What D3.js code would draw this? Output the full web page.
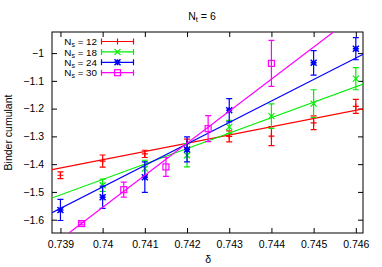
<!DOCTYPE html>
<html>
<head>
<meta charset="utf-8">
<style>
  body { margin: 0; background: #fff; }
  svg { font-family: "Liberation Sans", Arial, sans-serif; }
</style>
</head>
<body>
<script src="https://cdn.jsdelivr.net/npm/d3@7"></script>
<script>

// ===== data =====
const deltaTicks = [0.739, 0.740, 0.741, 0.742, 0.743, 0.744, 0.745, 0.746];
const binderTicks = [-1, -1.1, -1.2, -1.3, -1.4, -1.5, -1.6];

const ns12_x   = [0.739, 0.740, 0.741, 0.742, 0.743, 0.744, 0.745, 0.746];
const ns12_y   = [-1.440, -1.389, -1.363, -1.326, -1.300, -1.299, -1.251, -1.192];
const ns12_err = [0.012, 0.022, 0.013, 0.016, 0.020, 0.034, 0.025, 0.025];

const ns18_x   = [0.740, 0.741, 0.742, 0.743, 0.744, 0.745, 0.746];
const ns18_y   = [-1.476, -1.416, -1.368, -1.266, -1.227, -1.182, -1.092];
const ns18_err = [0.022, 0.030, 0.042, 0.024, 0.044, 0.050, 0.040];

const ns24_x   = [0.739, 0.740, 0.741, 0.742, 0.743, 0.745, 0.746];
const ns24_y   = [-1.565, -1.519, -1.447, -1.347, -1.206, -1.035, -0.984];
const ns24_err = [0.038, 0.040, 0.055, 0.045, 0.042, 0.044, 0.040];

const ns30_x   = [0.7395, 0.7405, 0.7415, 0.7425, 0.744];
const ns30_y   = [-1.614, -1.492, -1.410, -1.272, -1.037];
const ns30_err = [0.005, 0.027, 0.034, 0.047, 0.083];

// fitted lines: two points each (delta, binder)
const fit12 = [[0.7388, -1.420], [0.7462, -1.200]];
const fit18 = [[0.7388, -1.522], [0.7462, -1.110]];
const fit24 = [[0.7388, -1.575], [0.7462, -1.002]];
const fit30 = [[0.73920, -1.648], [0.74547, -0.924]];

const seriesNames = ["12", "18", "24", "30"];
const seriesColors = ["#ff0000", "#00ee00", "#0000ff", "#ff00ff"];
const seriesMarks = ["plus", "cross", "star", "box"];

// ===== layout =====
const W = 382, H = 267;
const margin = {top: 32, right: 19, bottom: 34, left: 52};
const width = W - margin.left - margin.right;
const height = H - margin.top - margin.bottom;

const svg = d3.select("body").append("svg")
    .attr("width", W)
    .attr("height", H);

const g = svg.append("g")
    .attr("transform", `translate(${margin.left},${margin.top})`);

const x = d3.scaleLinear().domain([0.7388, 0.74617]).range([0, width]);
const y = d3.scaleLinear().domain([-1.648, -0.924]).range([height, 0]);

svg.append("defs").append("clipPath").attr("id", "plotclip")
  .append("rect").attr("width", width).attr("height", height);

// axes, ticks pointing inward, mirrored
const tickLen = 5;
const xAxis = d3.axisBottom(x).tickValues(deltaTicks).tickSize(-tickLen).tickPadding(8)
    .tickFormat(d => d3.format("")(+d.toFixed(3)));
const yAxis = d3.axisLeft(y).tickValues(binderTicks).tickSize(-tickLen).tickPadding(8)
    .tickFormat(d => d3.format("")(+d.toFixed(1)));

g.append("g").attr("transform", `translate(0,${height})`).call(xAxis);
g.append("g").call(yAxis);
g.append("g").call(d3.axisTop(x).tickValues(deltaTicks).tickSize(-tickLen).tickFormat(""));
g.append("g").attr("transform", `translate(${width},0)`)
  .call(d3.axisRight(y).tickValues(binderTicks).tickSize(-tickLen).tickFormat(""));

g.selectAll(".domain").remove();
g.selectAll(".tick line").attr("stroke", "#000").attr("stroke-width", 1);
g.selectAll(".tick text").attr("font-size", 10.5).attr("fill", "#000");

g.append("rect")
    .attr("width", width).attr("height", height)
    .attr("fill", "none").attr("stroke", "#000").attr("stroke-width", 1);

// title and labels
svg.append("text")
    .attr("x", 202).attr("y", 19.5)
    .attr("text-anchor", "middle").attr("font-size", 10.5)
    .html('N<tspan font-size="7.5" dy="2.5">t</tspan><tspan dy="-2.5"> = 6</tspan>');

svg.append("text")
    .attr("transform", `translate(12,${margin.top + height / 2}) rotate(-90)`)
    .attr("text-anchor", "middle").attr("font-size", 10.5)
    .text("Binder cumulant");

svg.append("text")
    .attr("x", margin.left + x(0.7425)).attr("y", 263)
    .attr("text-anchor", "middle").attr("font-size", 10.5)
    .text("δ");

// marker drawing
function drawMark(sel, kind, color, cx, cy) {
  const s = 3;
  if (kind === "plus") {
    sel.append("path").attr("d", `M${cx - s},${cy}H${cx + s}M${cx},${cy - s}V${cy + s}`)
      .attr("stroke", color).attr("stroke-width", 1.2).attr("fill", "none");
  } else if (kind === "cross") {
    sel.append("path").attr("d", `M${cx - s},${cy - s}L${cx + s},${cy + s}M${cx - s},${cy + s}L${cx + s},${cy - s}`)
      .attr("stroke", color).attr("stroke-width", 1.2).attr("fill", "none");
  } else if (kind === "star") {
    sel.append("path").attr("d", `M${cx - s},${cy - s}L${cx + s},${cy + s}M${cx - s},${cy + s}L${cx + s},${cy - s}M${cx - s},${cy}H${cx + s}M${cx},${cy - s}V${cy + s}`)
      .attr("stroke", color).attr("stroke-width", 1.5).attr("fill", "none");
  } else {
    sel.append("rect").attr("x", cx - s).attr("y", cy - s).attr("width", 2 * s).attr("height", 2 * s)
      .attr("stroke", color).attr("stroke-width", 1.2).attr("fill", "none");
  }
}

const series = [
  {xs: ns12_x, ys: ns12_y, es: ns12_err, fit: fit12},
  {xs: ns18_x, ys: ns18_y, es: ns18_err, fit: fit18},
  {xs: ns24_x, ys: ns24_y, es: ns24_err, fit: fit24},
  {xs: ns30_x, ys: ns30_y, es: ns30_err, fit: fit30}
];

const plot = g.append("g").attr("clip-path", "url(#plotclip)");
const cap = 3;

series.forEach((s, i) => {
  const color = seriesColors[i];
  const grp = plot.append("g");
  // fit line
  grp.append("line")
      .attr("x1", x(s.fit[0][0])).attr("y1", y(s.fit[0][1]))
      .attr("x2", x(s.fit[1][0])).attr("y2", y(s.fit[1][1]))
      .attr("stroke", color).attr("stroke-width", 1.2);
  // error bars + markers
  s.xs.forEach((xv, j) => {
    const cx = x(xv), cy = y(s.ys[j]);
    const top = y(s.ys[j] + s.es[j]), bot = y(s.ys[j] - s.es[j]);
    grp.append("path")
        .attr("d", `M${cx},${top}V${bot}M${cx - cap},${top}H${cx + cap}M${cx - cap},${bot}H${cx + cap}`)
        .attr("stroke", color).attr("stroke-width", 1.2).attr("fill", "none");
    drawMark(grp, seriesMarks[i], color, cx, cy);
  });
});

// legend
const legend = svg.append("g");
const rowH = 10.4;
seriesNames.forEach((n, i) => {
  const ly = 41.5 + i * rowH;
  const color = seriesColors[i];
  legend.append("text")
      .attr("x", 97).attr("y", ly + 3.6)
      .attr("text-anchor", "end").attr("font-size", 9.8)
      .html(`N<tspan font-size="7" dy="2">s</tspan><tspan dy="-2"> = ${n}</tspan>`);
  legend.append("path")
      .attr("d", `M101.5,${ly}H133.5M101.5,${ly - cap}V${ly + cap}M133.5,${ly - cap}V${ly + cap}`)
      .attr("stroke", color).attr("stroke-width", 1.2).attr("fill", "none");
  drawMark(legend, seriesMarks[i], color, 117.5, ly);
});

</script>
</body>
</html>
